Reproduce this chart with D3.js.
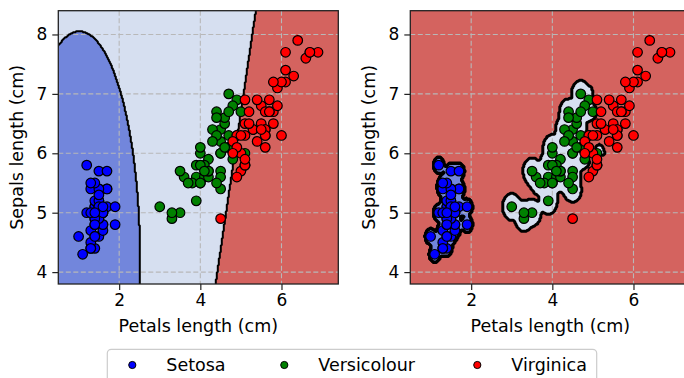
<!DOCTYPE html>
<html>
<head>
<meta charset="utf-8">
<script src="https://cdn.jsdelivr.net/npm/d3@7"></script>
<style>
  body { margin: 0; background: #fff; }
  text { font-family: "DejaVu Sans", sans-serif; fill: #000; }
</style>
</head>
<body>
<svg id="chart" width="684" height="378"></svg>
<script>
// Iris measurements: petal length and sepal length (cm) per species
const classNames = ["Setosa", "Versicolour", "Virginica"];

const setosaPetal = [1.4,1.4,1.3,1.5,1.4,1.7,1.4,1.5,1.4,1.5,1.5,1.6,1.4,1.1,1.2,1.5,1.3,1.4,1.7,1.5,
  1.7,1.5,1.0,1.7,1.9,1.6,1.6,1.5,1.4,1.6,1.6,1.5,1.5,1.4,1.5,1.2,1.3,1.4,1.3,1.5,
  1.3,1.3,1.3,1.6,1.9,1.4,1.6,1.4,1.5,1.4];
const setosaSepal = [5.1,4.9,4.7,4.6,5.0,5.4,4.6,5.0,4.4,4.9,5.4,4.8,4.8,4.3,5.8,5.7,5.4,5.1,5.7,5.1,
  5.4,5.1,4.6,5.1,4.8,5.0,5.0,5.2,5.2,4.7,4.8,5.4,5.2,5.5,4.9,5.0,5.5,4.9,4.4,5.1,
  5.0,4.5,4.4,5.0,5.1,4.8,5.1,4.6,5.3,5.0];

const versicolourPetal = [4.7,4.5,4.9,4.0,4.6,4.5,4.7,3.3,4.6,3.9,3.5,4.2,4.0,4.7,3.6,4.4,4.5,4.1,4.5,3.9,
  4.8,4.0,4.9,4.7,4.3,4.4,4.8,5.0,4.5,3.5,3.8,3.7,3.9,5.1,4.5,4.5,4.7,4.4,4.1,4.0,
  4.4,4.6,4.0,3.3,4.2,4.2,4.2,4.3,3.0,4.1];
const versicolourSepal = [7.0,6.4,6.9,5.5,6.5,5.7,6.3,4.9,6.6,5.2,5.0,5.9,6.0,6.1,5.6,6.7,5.6,5.8,6.2,5.6,
  5.9,6.1,6.3,6.1,6.4,6.6,6.8,6.7,6.0,5.7,5.5,5.5,5.8,6.0,5.4,6.0,6.7,6.3,5.6,5.5,
  5.5,6.1,5.8,5.0,5.6,5.7,5.7,6.2,5.1,5.7];

const virginicaPetal = [6.0,5.1,5.9,5.6,5.8,6.6,4.5,6.3,5.8,6.1,5.1,5.3,5.5,5.0,5.1,5.3,5.5,6.7,6.9,5.0,
  5.7,4.9,6.7,4.9,5.7,6.0,4.8,4.9,5.6,5.8,6.1,6.4,5.6,5.1,5.6,6.1,5.6,5.5,4.8,5.4,
  5.6,5.1,5.1,5.9,5.7,5.2,5.0,5.2,5.4,5.1];
const virginicaSepal = [6.3,5.8,7.1,6.3,6.5,7.6,4.9,7.3,6.7,7.2,6.5,6.4,6.8,5.7,5.8,6.4,6.5,7.7,7.7,6.0,
  6.9,5.6,7.7,6.3,6.7,7.2,6.2,6.1,6.4,7.2,7.4,7.9,6.4,6.3,6.1,7.7,6.3,6.4,6.0,6.9,
  6.7,6.9,5.8,6.8,6.7,6.7,6.3,6.5,6.2,5.9];

const xTicks = [2, 4, 6];
const yTicks = [4, 5, 6, 7, 8];
const xLabel = "Petals length (cm)";
const yLabel = "Sepals length (cm)";

// Samples in drawing order, tagged with their class index
const samples = [];
[[setosaPetal, setosaSepal], [versicolourPetal, versicolourSepal], [virginicaPetal, virginicaSepal]]
  .forEach(([pl, sl], c) => pl.forEach((v, i) => samples.push({ x: v, y: sl[i], c })));

const regionColors = ["#7286dc", "#d6dff0", "#d4635f"];
const pointColors = ["#0000ff", "#008000", "#ff0000"];

const svg = d3.select("#chart");
const plotW = 280, plotTop = 10.7, plotBottom = 284;
const xDomain = [0.5, 7.4], yDomain = [3.8, 8.4];

const byClass = c => samples.filter(s => s.c === c);

// ---- Smooth model: pairwise Gaussian discriminants with one-vs-one voting ----
const setosaLogWeight = 7.2;   // extra log-weight on the compact Setosa class
const corrShrink = 0.76;       // shrinkage of the pooled Versicolour/Virginica correlation

const diagFits = [0, 1, 2].map(c => {
  const pts = byClass(c);
  const mx = d3.mean(pts, p => p.x), my = d3.mean(pts, p => p.y);
  return { mx, my, vx: d3.mean(pts, p => (p.x - mx) ** 2), vy: d3.mean(pts, p => (p.y - my) ** 2) };
});
const logDiag = (f, x, y) =>
  -0.5 * Math.log(f.vx * f.vy) - (x - f.mx) ** 2 / (2 * f.vx) - (y - f.my) ** 2 / (2 * f.vy);

// linear discriminant between Versicolour and Virginica
const linearVG = (() => {
  const stats = [1, 2].map(c => {
    const pts = byClass(c), n = pts.length;
    const mx = d3.mean(pts, p => p.x), my = d3.mean(pts, p => p.y);
    let sxx = 0, syy = 0, sxy = 0;
    pts.forEach(p => { sxx += (p.x - mx) ** 2; syy += (p.y - my) ** 2; sxy += (p.x - mx) * (p.y - my); });
    return { mx, my, sxx: sxx / (n - 1), syy: syy / (n - 1), sxy: sxy / (n - 1) };
  });
  const [a, b] = stats;
  const sxx = (a.sxx + b.sxx) / 2, syy = (a.syy + b.syy) / 2, sxy = corrShrink * (a.sxy + b.sxy) / 2;
  const det = sxx * syy - sxy * sxy;
  const dx = b.mx - a.mx, dy = b.my - a.my;
  const wx = (syy * dx - sxy * dy) / det, wy = (-sxy * dx + sxx * dy) / det;
  const cx = (a.mx + b.mx) / 2, cy = (a.my + b.my) / 2;
  return (x, y) => wx * (x - cx) + wy * (y - cy);   // > 0 favours Virginica
})();

function predictSmooth(x, y) {
  const votes = [0, 0, 0];
  const ls = logDiag(diagFits[0], x, y) + setosaLogWeight;
  votes[ls > logDiag(diagFits[1], x, y) ? 0 : 1]++;
  votes[ls > logDiag(diagFits[2], x, y) ? 0 : 2]++;
  votes[linearVG(x, y) > 0 ? 2 : 1]++;
  let best = 0;
  for (let c = 1; c < 3; c++) if (votes[c] > votes[best]) best = c;
  return best;
}

// ---- Narrow RBF support vector classifier (one-vs-one, SMO solver) ----
const rbfGamma = 80, svmC = 1;
const rbf = (a, b) => { const dx = a.x - b.x, dy = a.y - b.y; return Math.exp(-rbfGamma * (dx * dx + dy * dy)); };

function trainBinary(pts, y) {
  const n = pts.length, K = [];
  for (let i = 0; i < n; i++) { K.push(new Float64Array(n)); for (let j = 0; j < n; j++) K[i][j] = rbf(pts[i], pts[j]); }
  const a = new Float64Array(n), G = new Float64Array(n).fill(-1), C = svmC;
  for (let it = 0; it < 200000; it++) {
    let Gmax = -Infinity, Gmin = Infinity, i = -1, j = -1;
    for (let t = 0; t < n; t++) {
      const up = (y[t] === 1 && a[t] < C) || (y[t] === -1 && a[t] > 0);
      const low = (y[t] === -1 && a[t] < C) || (y[t] === 1 && a[t] > 0);
      const v = -y[t] * G[t];
      if (up && v > Gmax) { Gmax = v; i = t; }
      if (low && v < Gmin) { Gmin = v; j = t; }
    }
    if (Gmax - Gmin < 1e-3) break;
    const Qij = y[i] * y[j] * K[i][j], oi = a[i], oj = a[j];
    if (y[i] !== y[j]) {
      let q = K[i][i] + K[j][j] + 2 * Qij; if (q <= 0) q = 1e-12;
      const delta = (-G[i] - G[j]) / q, diff = a[i] - a[j];
      a[i] += delta; a[j] += delta;
      if (diff > 0) { if (a[j] < 0) { a[j] = 0; a[i] = diff; } } else { if (a[i] < 0) { a[i] = 0; a[j] = -diff; } }
      if (diff > 0) { if (a[i] > C) { a[i] = C; a[j] = C - diff; } } else { if (a[j] > C) { a[j] = C; a[i] = C + diff; } }
    } else {
      let q = K[i][i] + K[j][j] - 2 * Qij; if (q <= 0) q = 1e-12;
      const delta = (G[i] - G[j]) / q, sum = a[i] + a[j];
      a[i] -= delta; a[j] += delta;
      if (sum > C) { if (a[i] > C) { a[i] = C; a[j] = sum - C; } } else { if (a[j] < 0) { a[j] = 0; a[i] = sum; } }
      if (sum > C) { if (a[j] > C) { a[j] = C; a[i] = sum - C; } } else { if (a[i] < 0) { a[i] = 0; a[j] = sum; } }
    }
    const di = a[i] - oi, dj = a[j] - oj;
    for (let k = 0; k < n; k++) G[k] += y[i] * y[k] * K[i][k] * di + y[j] * y[k] * K[j][k] * dj;
  }
  let ub = Infinity, lb = -Infinity, nf = 0, sf = 0;
  for (let t = 0; t < n; t++) {
    const yG = y[t] * G[t];
    if (a[t] >= C) { if (y[t] === -1) ub = Math.min(ub, yG); else lb = Math.max(lb, yG); }
    else if (a[t] <= 0) { if (y[t] === 1) ub = Math.min(ub, yG); else lb = Math.max(lb, yG); }
    else { nf++; sf += yG; }
  }
  const rho = nf > 0 ? sf / nf : (ub + lb) / 2;
  const sv = [];
  for (let t = 0; t < n; t++) if (a[t] > 0) sv.push({ p: pts[t], w: a[t] * y[t] });
  return { sv, rho };
}
const svmPairs = [];
for (let p = 0; p < 3; p++) for (let q = p + 1; q < 3; q++) {
  const pts = samples.filter(s => s.c === p || s.c === q);
  svmPairs.push({ p, q, m: trainBinary(pts, pts.map(s => s.c === p ? 1 : -1)) });
}
function predictSVM(x, y) {
  const votes = [0, 0, 0], pt = { x, y };
  for (const { p, q, m } of svmPairs) {
    let f = -m.rho;
    for (const s of m.sv) f += s.w * rbf(s.p, pt);
    votes[f > 0 ? p : q]++;
  }
  let best = 0;
  for (let c = 1; c < 3; c++) if (votes[c] > votes[best]) best = c;
  return best;
}

function drawPanel(x0, predict, lineWidth, idx) {
  const x = d3.scaleLinear().domain(xDomain).range([x0, x0 + plotW]);
  const y = d3.scaleLinear().domain(yDomain).range([plotBottom, plotTop]);
  const g = svg.append("g");

  const clipId = "clip" + idx;
  svg.append("clipPath").attr("id", clipId)
    .append("rect").attr("x", x0).attr("y", plotTop).attr("width", plotW).attr("height", plotBottom - plotTop);

  // sample the classifier on a pixel grid, padded beyond the axes
  const step = 1, pad = 4;
  const nx = Math.ceil(plotW / step) + 1 + 2 * pad;
  const ny = Math.ceil((plotBottom - plotTop) / step) + 1 + 2 * pad;
  const gx0 = x0 - pad * step, gy0 = plotTop - pad * step;
  const Z = new Float64Array(nx * ny);
  for (let j = 0; j < ny; j++) {
    const dy = y.invert(gy0 + j * step);
    for (let i = 0; i < nx; i++) Z[j * nx + i] = predict(x.invert(gx0 + i * step), dy);
  }
  const contours = d3.contours().size([nx, ny]).thresholds([0.5, 1.5])(Z);
  const path = d3.geoPath(d3.geoTransform({
    point(cx, cy) { this.stream.point(gx0 + (cx - 0.5) * step, gy0 + (cy - 0.5) * step); }
  }));

  const area = g.append("g").attr("clip-path", `url(#${clipId})`);
  area.append("rect").attr("x", x0).attr("y", plotTop).attr("width", plotW)
    .attr("height", plotBottom - plotTop).attr("fill", regionColors[0]);
  area.selectAll("path.fill").data(contours).join("path").attr("class", "fill")
    .attr("d", path).attr("fill", (d, k) => regionColors[k + 1]);

  // dashed grid
  area.selectAll("line.gx").data(xTicks).join("line").attr("class", "gx")
    .attr("x1", d => x(d)).attr("x2", d => x(d)).attr("y1", plotTop).attr("y2", plotBottom)
    .attr("stroke", "#b8b8b8").attr("stroke-width", 1.1).attr("stroke-dasharray", "5,2.5");
  area.selectAll("line.gy").data(yTicks).join("line").attr("class", "gy")
    .attr("x1", x0).attr("x2", x0 + plotW).attr("y1", d => y(d)).attr("y2", d => y(d))
    .attr("stroke", "#b8b8b8").attr("stroke-width", 1.1).attr("stroke-dasharray", "5,2.5");

  // class boundaries
  area.selectAll("path.line").data(contours).join("path").attr("class", "line")
    .attr("d", path).attr("fill", "none").attr("stroke", "#000")
    .attr("stroke-width", lineWidth).attr("stroke-linejoin", "round");

  // training points
  area.selectAll("circle").data(samples).join("circle")
    .attr("cx", d => x(d.x)).attr("cy", d => y(d.y)).attr("r", 4.8)
    .attr("fill", d => pointColors[d.c]).attr("stroke", "#000").attr("stroke-width", 1.2);

  // axes
  const xAxis = g.append("g").attr("transform", `translate(0,${plotBottom})`)
    .call(d3.axisBottom(x).tickValues(xTicks).tickFormat(d3.format("d")).tickSize(6).tickPadding(4));
  const yAxis = g.append("g").attr("transform", `translate(${x0},0)`)
    .call(d3.axisLeft(y).tickValues(yTicks).tickFormat(d3.format("d")).tickSize(6).tickPadding(5));
  [xAxis, yAxis].forEach(a => {
    a.select(".domain").remove();
    a.selectAll(".tick line").attr("stroke", "#222").attr("stroke-width", 1.2);
    a.selectAll(".tick text").attr("font-size", 17).attr("font-family", "DejaVu Sans").attr("fill", "#000");
  });

  g.append("rect").attr("x", x0).attr("y", plotTop).attr("width", plotW)
    .attr("height", plotBottom - plotTop).attr("fill", "none").attr("stroke", "#222").attr("stroke-width", 1.3);

  g.append("text").attr("x", x0 + plotW / 2).attr("y", 332).attr("text-anchor", "middle")
    .attr("font-size", 17.5).text(xLabel);
  g.append("text").attr("transform", `translate(${x0 - 35},${(plotTop + plotBottom) / 2}) rotate(-90)`)
    .attr("text-anchor", "middle").attr("font-size", 17.5).text(yLabel);
}

drawPanel(58.3, predictSmooth, 2, 0);
drawPanel(410.3, predictSVM, 3, 1);

// legend
const legend = svg.append("g");
legend.append("rect").attr("x", 107.3).attr("y", 349.3).attr("width", 489.4).attr("height", 40)
  .attr("rx", 4).attr("fill", "#fff").attr("stroke", "#cccccc").attr("stroke-width", 1.2);
const legendX = [132.3, 284.3, 477.3];
const items = legend.selectAll("g.item").data(classNames).join("g").attr("class", "item")
  .attr("transform", (d, i) => `translate(${legendX[i]},365)`);
items.append("circle").attr("r", 3.6).attr("fill", (d, i) => pointColors[i])
  .attr("stroke", "#000").attr("stroke-width", 1);
items.append("text").attr("x", 34).attr("y", 5.5).attr("font-size", 17.5).text(d => d);
</script>
</body>
</html>
